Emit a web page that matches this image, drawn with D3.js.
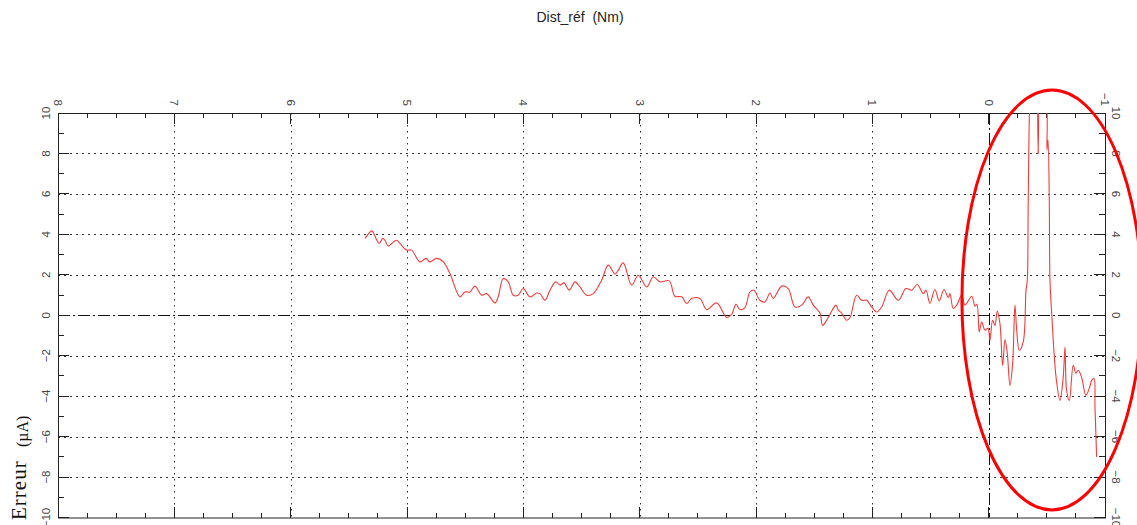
<!DOCTYPE html>
<html>
<head>
<meta charset="utf-8">
<script src="https://cdn.jsdelivr.net/npm/d3@7/dist/d3.min.js"></script>
<style>
  html, body { margin: 0; padding: 0; background: #fff; }
  svg { display: block; }
</style>
</head>
<body>
<svg id="chart" width="1137" height="525"></svg>
<script>
// Reference distance (Nm), decreasing along the run
const dist = [
  5.361, 5.304, 5.293, 5.239, 5.209, 5.190, 5.161, 5.132, 5.089, 5.061,
  5.003, 4.960, 4.889, 4.837, 4.803, 4.745, 4.688, 4.631, 4.545, 4.502,
  4.459, 4.416, 4.358, 4.315, 4.244, 4.216, 4.173, 4.130, 4.087, 4.044,
  4.001, 3.943, 3.885, 3.857, 3.814, 3.771, 3.720, 3.685, 3.651, 3.605,
  3.556, 3.513, 3.456, 3.399, 3.327, 3.270, 3.212, 3.184, 3.141, 3.069,
  3.012, 2.940, 2.883, 2.826, 2.746, 2.697, 2.639, 2.596, 2.553, 2.482,
  2.424, 2.338, 2.252, 2.209, 2.172, 2.138, 2.095, 2.052, 2.018, 1.966,
  1.923, 1.880, 1.852, 1.779, 1.723, 1.665, 1.607, 1.551, 1.508, 1.450,
  1.427, 1.379, 1.313, 1.293, 1.264, 1.221, 1.192, 1.135, 1.092, 1.049,
  1.006, 0.963, 0.920, 0.854, 0.777, 0.711, 0.662, 0.614, 0.562, 0.539,
  0.505, 0.462, 0.425, 0.384, 0.347, 0.333, 0.304, 0.275, 0.232, 0.204,
  0.146, 0.118, 0.101, 0.081, 0.060, 0.032, 0.006, -0.011, -0.034, -0.054,
  -0.074, -0.097, -0.120, -0.140, -0.160, -0.183, -0.206, -0.226, -0.241, -0.263,
  -0.297, -0.321, -0.332, -0.340, -0.355, -0.361, -0.407, -0.426, -0.441, -0.484,
  -0.501, -0.510, -0.521, -0.527, -0.542, -0.579, -0.613, -0.641, -0.656, -0.670,
  -0.693, -0.727, -0.750, -0.770, -0.799, -0.836, -0.871, -0.885, -0.905, -0.914,
  -0.928
];

// Measured error (µA) at each distance
const erreur = [
  3.80, 4.17, 4.12, 3.55, 3.80, 3.71, 3.42, 3.55, 3.71, 3.55,
  3.22, 3.22, 2.64, 2.81, 2.64, 2.81, 2.64, 2.06, 0.91, 1.15,
  1.15, 1.44, 0.99, 1.07, 0.61, 0.91, 1.82, 1.65, 0.99, 0.99,
  1.32, 0.91, 1.10, 1.07, 0.74, 1.24, 1.65, 1.49, 1.60, 1.24,
  1.65, 1.40, 0.99, 1.07, 1.73, 2.48, 2.03, 2.23, 2.59, 1.49,
  1.98, 1.40, 1.90, 1.65, 1.70, 0.94, 0.91, 0.58, 0.83, 0.83,
  0.28, 0.61, -0.11, 0.05, 0.54, 0.28, 0.38, 1.15, 1.24, 0.74,
  0.66, 1.10, 0.83, 1.44, 1.32, 0.41, 0.50, 0.91, 0.50, 0.11,
  -0.50, -0.11, 0.50, 0.25, 0.11, -0.25, -0.11, 0.99, 0.74, 0.74,
  0.41, 0.16, 0.41, 1.24, 0.74, 1.32, 1.24, 1.52, 1.07, 1.24,
  0.58, 1.27, 0.71, 1.27, 0.88, 1.07, 0.33, 0.50, 0.99, 0.50,
  0.94, 0.45, 0.54, -0.83, -0.33, -0.74, -0.64, -1.24, -0.25, -0.50,
  0.21, -0.41, -2.48, -1.20, -1.88, -3.47, -2.38, 0.50, -0.74, -1.73,
  -1.32, 1.24, 1.73, 5.69, 10.6, 10.8, 10.8, 8.00, 10.8, 10.8,
  8.17, 8.66, 5.69, 1.73, 0.08, -3.05, -4.21, -3.05, -1.57, -3.71,
  -4.21, -2.48, -2.87, -2.72, -3.07, -3.96, -3.51, -3.22, -3.13, -4.54,
  -7.01
];

// Axis ticks
const distTicks = [8, 7, 6, 5, 4, 3, 2, 1, 0, -1];
const errTicks = [-10, -8, -6, -4, -2, 0, 2, 4, 6, 8, 10];
const distMinorStep = 0.25;
const errMinorTicks = [-9, -7, -5, -3, -1, 1, 3, 5, 7, 9];

// Highlight ellipse around the zero crossing (data units)
const zoneCentre = { dist: -0.544, erreur: 0.757 };
const zoneRadius = { dist: 0.774, erreur: 10.38 };

const svg = d3.select("#chart");
const pLeft = 58, pRight = 1105, pTop = 113, pBottom = 517.5;

const x = d3.scaleLinear().domain([8, -1]).range([pLeft, pRight]);
const y = d3.scaleLinear().domain([-10, 10]).range([pBottom, pTop]);

const ink = "#222";
const labelInk = "#444";

// Grid: dotted lines, dash-dot on the zero lines
const grid = svg.append("g");
distTicks.filter(d => d !== 8 && d !== -1).forEach(d => {
  grid.append("line")
    .attr("x1", Math.round(x(d)) + 0.5).attr("x2", Math.round(x(d)) + 0.5)
    .attr("y1", pTop).attr("y2", pBottom)
    .attr("stroke", d === 0 ? "#111" : "#333")
    .attr("stroke-width", 1)
    .attr("stroke-dasharray", d === 0 ? "12,3,2,3" : "1.5,4.5");
});
errTicks.filter(v => v !== 10 && v !== -10).forEach(v => {
  grid.append("line")
    .attr("x1", pLeft).attr("x2", pRight)
    .attr("y1", Math.round(y(v)) + 0.5).attr("y2", Math.round(y(v)) + 0.5)
    .attr("stroke", v === 0 ? "#111" : "#333")
    .attr("stroke-width", 1)
    .attr("stroke-dasharray", v === 0 ? "12,3,2,3" : "2,4");
});

// Ticks pointing inward on all four sides
const ticks = svg.append("g").attr("stroke", ink).attr("stroke-width", 1)
  .attr("shape-rendering", "crispEdges");
const distMinor = d3.range(-1, 8 + 1e-9, distMinorStep)
  .filter(d => Math.abs(d - Math.round(d)) > 1e-6);
distTicks.forEach(d => {
  const px = x(d);
  ticks.append("line").attr("x1", px).attr("x2", px).attr("y1", pTop).attr("y2", pTop + 11);
  ticks.append("line").attr("x1", px).attr("x2", px).attr("y1", pBottom).attr("y2", pBottom - 11);
});
distMinor.forEach(d => {
  const px = x(d);
  ticks.append("line").attr("x1", px).attr("x2", px).attr("y1", pTop).attr("y2", pTop + 5);
  ticks.append("line").attr("x1", px).attr("x2", px).attr("y1", pBottom).attr("y2", pBottom - 5);
});
errTicks.forEach(v => {
  const py = y(v);
  ticks.append("line").attr("x1", pLeft).attr("x2", pLeft + 11).attr("y1", py).attr("y2", py);
  ticks.append("line").attr("x1", pRight).attr("x2", pRight - 11).attr("y1", py).attr("y2", py);
});
errMinorTicks.forEach(v => {
  const py = y(v);
  ticks.append("line").attr("x1", pLeft).attr("x2", pLeft + 6).attr("y1", py).attr("y2", py);
  ticks.append("line").attr("x1", pRight).attr("x2", pRight - 6).attr("y1", py).attr("y2", py);
});

// Frame
svg.append("rect")
  .attr("x", pLeft + 0.5).attr("y", pTop + 0.5)
  .attr("width", pRight - pLeft).attr("height", pBottom - pTop)
  .attr("fill", "none").attr("stroke", ink).attr("stroke-width", 1);

// Tick labels (rotated)
const fmt = v => (v < 0 ? "\u2212" : "") + Math.abs(v);
const lab = svg.append("g")
  .attr("font-family", "'Liberation Sans', Arial, sans-serif")
  .attr("font-size", 11.5).attr("fill", labelInk);
distTicks.forEach(d => {
  lab.append("text")
    .attr("transform", `translate(${x(d)},${pTop - 7}) rotate(90)`)
    .attr("text-anchor", "end").attr("dominant-baseline", "central")
    .text(fmt(d));
});
errTicks.forEach(v => {
  lab.append("text")
    .attr("transform", `translate(46,${y(v)}) rotate(-90)`)
    .attr("text-anchor", "middle").attr("dominant-baseline", "central")
    .text(fmt(v));
  lab.append("text")
    .attr("transform", `translate(1116,${y(v)}) rotate(90)`)
    .attr("text-anchor", "middle").attr("dominant-baseline", "central")
    .text(fmt(v));
});

// Axis titles
svg.append("text")
  .attr("x", 580).attr("y", 22)
  .attr("text-anchor", "middle")
  .attr("font-family", "'Liberation Sans', Arial, sans-serif")
  .attr("font-size", 14).attr("fill", "#222")
  .style("white-space", "pre")
  .text("Dist_réf  (Nm)");

svg.append("text")
  .attr("transform", "translate(26,520) rotate(-90)")
  .attr("text-anchor", "start")
  .attr("font-family", "'Liberation Serif', 'Times New Roman', serif")
  .attr("font-size", 21).attr("letter-spacing", 1).attr("fill", "#111")
  .text("Erreur");
svg.append("text")
  .attr("transform", "translate(28,447) rotate(-90)")
  .attr("text-anchor", "start")
  .attr("font-family", "'Liberation Serif', 'Times New Roman', serif")
  .attr("font-size", 16).attr("fill", "#111")
  .text("(µA)");

// Error curve, clipped to the plotting region
svg.append("clipPath").attr("id", "plotClip")
  .append("rect").attr("x", pLeft).attr("y", pTop)
  .attr("width", pRight - pLeft).attr("height", pBottom - pTop);

const pts = dist.map((d, i) => [d, erreur[i]]);
const line = d3.line()
  .x(p => x(p[0])).y(p => y(p[1]))
  .curve(d3.curveCatmullRom.alpha(0.5));
svg.append("path")
  .datum(pts)
  .attr("clip-path", "url(#plotClip)")
  .attr("d", line)
  .attr("fill", "none")
  .attr("stroke", "#f23c3c")
  .attr("stroke-width", 1.1)
  .attr("stroke-linejoin", "round");

// Highlight ellipse
svg.append("ellipse")
  .attr("cx", x(zoneCentre.dist))
  .attr("cy", y(zoneCentre.erreur))
  .attr("rx", Math.abs(x(zoneRadius.dist) - x(0)))
  .attr("ry", Math.abs(y(zoneRadius.erreur) - y(0)))
  .attr("fill", "none")
  .attr("stroke", "#ff0000")
  .attr("stroke-width", 3);
</script>
</body>
</html>
